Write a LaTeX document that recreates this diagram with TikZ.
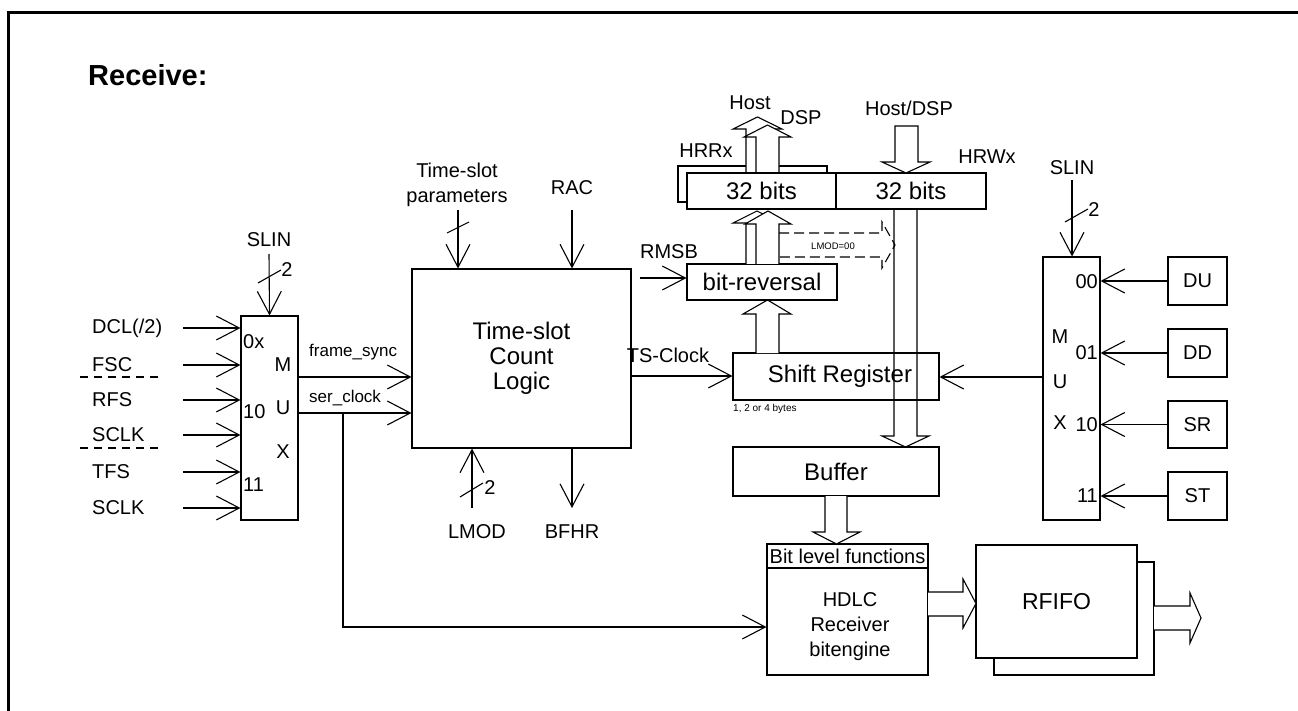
\documentclass[tikz,border=0pt]{standalone}
\usepackage{fontspec}
\setmainfont{Liberation Sans}
\usetikzlibrary{arrows.meta}
\begin{document}
\begin{tikzpicture}[x=1pt,y=-1pt,
  ln/.style={line width=1.1pt},
  arr/.style={ln,-{Straight Barb[length=23pt,width=24pt]}},
  blk/.style={draw,ln,fill=white,inner sep=0pt},
  fL/.style={font=\fontsize{24}{25}\selectfont},
  fR/.style={font=\fontsize{23}{25}\selectfont},
  fM/.style={font=\fontsize{20}{25}\selectfont},
  fS/.style={font=\fontsize{17}{19}\selectfont},
  fT/.style={font=\fontsize{9.5}{11}\selectfont},
  txt/.style={inner sep=0pt},
  hol/.style={ln,fill=white},
  dsh/.style={ln,dash pattern=on 8pt off 6pt},
]
\useasboundingbox (0,0) rectangle (1298,711);
% frame
\draw[line width=3pt] (1300,13) -- (8,13) -- (8,713);
\node[txt,anchor=west,font=\fontsize{29}{31}\selectfont\bfseries] (title) at (88,75) {Receive:};

% ---------- left MUX ----------
\node[blk,minimum width=57pt,minimum height=204pt] (lmux) at (269.5,418) {};
\node[txt,fM,anchor=west] (l0x) at (243,342) {0x};
\node[txt,fM,anchor=west] (l10) at (243,412) {10};
\node[txt,fM,anchor=west] (l11) at (243,485) {11};
\node[txt,fM] (lM) at (283,365) {M};
\node[txt,fM] (lU) at (283,408) {U};
\node[txt,fM] (lX) at (283,452) {X};

\node[txt,fM,anchor=west] (tDCL) at (92,328) {DCL(/2)};
\node[txt,fM,anchor=west] (tFSC) at (92,365) {FSC};
\node[txt,fM,anchor=west] (tRFS) at (92,400) {RFS};
\node[txt,fM,anchor=west] (tSCLKa) at (92,435) {SCLK};
\node[txt,fM,anchor=west] (tTFS) at (92,472) {TFS};
\node[txt,fM,anchor=west] (tSCLKb) at (92,508) {SCLK};
\foreach \n/\yy in {a/328,b/365,c/400,d/435,e/472,f/508}{
  \coordinate (in\n) at (183,\yy);
  \draw[arr] (in\n) -- (lmux.west |- in\n);
}
\draw[dsh] (80,377) -- (163,377);
\draw[dsh] (80,448) -- (163,448);

% SLIN left
\node[txt,fM] (slinL) at (269,240) {SLIN};
\coordinate (slinLs) at (269,254);
\draw[arr] (slinLs) -- (lmux.north);
\draw[ln] (258,283) -- (281,270);
\node[txt,fM] (twoL) at (287,270) {2};

% ---------- Time-slot count logic ----------
\node[blk,minimum width=219pt,minimum height=179pt,fL,align=center] (tscl) at (521.5,358.5) {Time-slot\\Count\\Logic};
\node[txt,fS,anchor=west] (fsync) at (309,352) {frame\_sync};
\node[txt,fS,anchor=west] (sclk) at (309,398) {ser\_clock};
\draw[arr] (lmux.east |- 0,377) -- (tscl.west |- 0,377);
\draw[arr] (lmux.east |- 0,413) -- (tscl.west |- 0,413);

\node[txt,fM,align=center] (tsp) at (457,185) {Time-slot\\parameters};
\coordinate (tsps) at (458,210);
\draw[arr] (tsps) -- (tscl.north -| tsps);
\draw[ln] (447,233) -- (469,222);
\node[txt,fM] (rac) at (572,188) {RAC};
\coordinate (racs) at (572,210);
\draw[arr] (racs) -- (tscl.north -| racs);

\node[txt,fM] (lmod) at (477,532) {LMOD};
\coordinate (lmods) at (472,508);
\draw[arr] (lmods) -- (tscl.south -| lmods);
\draw[ln] (460,497) -- (483,483);
\node[txt,fM] (twoM) at (490,488) {2};
\node[txt,fM] (bfhr) at (572,532) {BFHR};
\coordinate (bfhre) at (572,508);
\draw[arr] (tscl.south -| bfhre) -- (bfhre);

% ---------- registers ----------
\node[blk,minimum width=149pt,minimum height=36pt] (hrrxb) at (752.5,184) {};
% host / dsp up arrows
\draw[hol] (746,173) -- (746,129) -- (733,129) -- (757.5,117) -- (782,129) -- (769,129) -- (769,173);
\draw[hol] (756,173) -- (756,137) -- (744,137) -- (767.5,125) -- (791,137) -- (779,137) -- (779,173);
\node[blk,minimum width=149pt,minimum height=36pt,fL] (regL) at (761.5,191) {32 bits};
\node[blk,minimum width=150pt,minimum height=36pt,fL] (regR) at (911,191) {32 bits};
\node[txt,fM] (hrrx) at (706,151) {HRRx};
\node[txt,fM] (hrwx) at (987,157) {HRWx};
\node[txt,fM] (host) at (750,103) {Host};
\node[txt,fM] (dsp) at (801,118) {DSP};
\node[txt,fM] (hostdsp) at (909,108) {Host/DSP};
% host/dsp down arrow
\draw[hol] (895,126) -- (895,162) -- (882,162) -- (906,173) -- (930,162) -- (918,162) -- (918,126) -- cycle;

% bit reversal
\node[blk,minimum width=150pt,minimum height=36pt,fL] (brev) at (762,282) {bit-reversal};
\draw[hol] (746,264) -- (746,223) -- (733,223) -- (757,211) -- (781,223) -- (769,223) -- (769,264);
\draw[hol] (756,264) -- (756,224) -- (745,224) -- (768,211) -- (791,224) -- (779,224) -- (779,264);
\node[txt,fM] (rmsb) at (669,252) {RMSB};
\coordinate (rmsbs) at (640,278);
\draw[arr] (rmsbs) -- (brev.west |- rmsbs);
% dashed LMOD=00 arrow
\draw[ln,dash pattern=on 10pt off 5pt] (779,233) -- (882,233) -- (882,222) -- (895,245) -- (882,268) -- (882,257) -- (779,257);
\node[txt,fT] (lmod00) at (833,246) {LMOD=00};

% shift register and buffer
\node[blk,minimum width=206pt,minimum height=47pt,fL] (shreg) at (836,376.5) {\hspace*{8pt}Shift Register};
\node[txt,font=\fontsize{10}{11}\selectfont,anchor=west] (bytes) at (733,409) {1, 2 or 4 bytes};
\node[blk,minimum width=206pt,minimum height=49pt,fL] (buffer) at (836,471.5) {Buffer};
\draw[hol] (756,353) -- (756,314) -- (743,314) -- (767.5,300) -- (791,314) -- (779,314) -- (779,353);
% long down arrow from HRWx register to buffer
\draw[ln] (894,209) -- (894,436) -- (882,436) -- (905.5,447) -- (929,436) -- (917,436) -- (917,209);
\node[txt,fM] (tsclk) at (668,355) {TS-Clock};
\draw[arr] (tscl.east |- 0,376) -- (shreg.west |- 0,376);

% HDLC
\node[blk,minimum width=161pt,minimum height=131pt] (hdlc) at (847.5,609.5) {};
\draw[ln] (hdlc.west |- 0,568) -- (hdlc.east |- 0,568);
\node[txt,fM] (blf) at (847.5,556) {Bit level functions};
\node[txt,fM,align=center] (hdlct) at (850,627) {HDLC\\Receiver\\bitengine};
\draw[hol] (825,496) -- (825,532) -- (813,532) -- (836.5,544) -- (860,532) -- (847,532) -- (847,496);
% ser_clock to HDLC
\coordinate (sbr) at (343,413);
\draw[arr] (sbr) -- (343,627) -- (hdlc.west |- 0,627);

% RFIFO
\node[blk,minimum width=160pt,minimum height=113pt] (rfifob) at (1074,618.5) {};
\node[blk,minimum width=161pt,minimum height=113pt,fR] (rfifo) at (1056.5,601.5) {RFIFO};
\draw[hol] (928,592) -- (963,592) -- (963,579) -- (976,603.5) -- (963,628) -- (963,616) -- (928,616);
\draw[hol] (1154,606) -- (1190,606) -- (1190,593) -- (1201,618) -- (1190,643) -- (1190,630) -- (1154,630);

% ---------- right MUX ----------
\node[blk,minimum width=57pt,minimum height=263pt] (rmux) at (1071.5,388.5) {};
\node[txt,fM] (rM) at (1060,337) {M};
\node[txt,fM] (rU) at (1060,382) {U};
\node[txt,fM] (rX) at (1060,423) {X};
\node[txt,fM,anchor=east] (r00) at (1098,282) {00};
\node[txt,fM,anchor=east] (r01) at (1098,353) {01};
\node[txt,fM,anchor=east] (r10) at (1098,425) {10};
\node[txt,fM,anchor=east] (r11) at (1098,496) {11};
\node[blk,minimum width=59pt,minimum height=48pt,fM] (du) at (1197.5,281) {DU};
\node[blk,minimum width=59pt,minimum height=48pt,fM] (dd) at (1197.5,353) {DD};
\node[blk,minimum width=59pt,minimum height=47pt,fM] (sr) at (1197.5,424.5) {SR};
\node[blk,minimum width=59pt,minimum height=48pt,fM] (st) at (1197.5,496) {ST};
\foreach \b in {du,dd,sr,st}{
  \draw[arr] (\b.west) -- (rmux.east |- \b.west);
}
\draw[arr] (rmux.west |- 0,377) -- (shreg.east |- 0,377);
\node[txt,fM] (slinR) at (1072,168) {SLIN};
\coordinate (slinRs) at (1072,180);
\draw[arr] (slinRs) -- (rmux.north -| slinRs);
\draw[ln] (1065,222) -- (1088,209);
\node[txt,fM] (twoR) at (1094,210) {2};
\end{tikzpicture}
\end{document}
